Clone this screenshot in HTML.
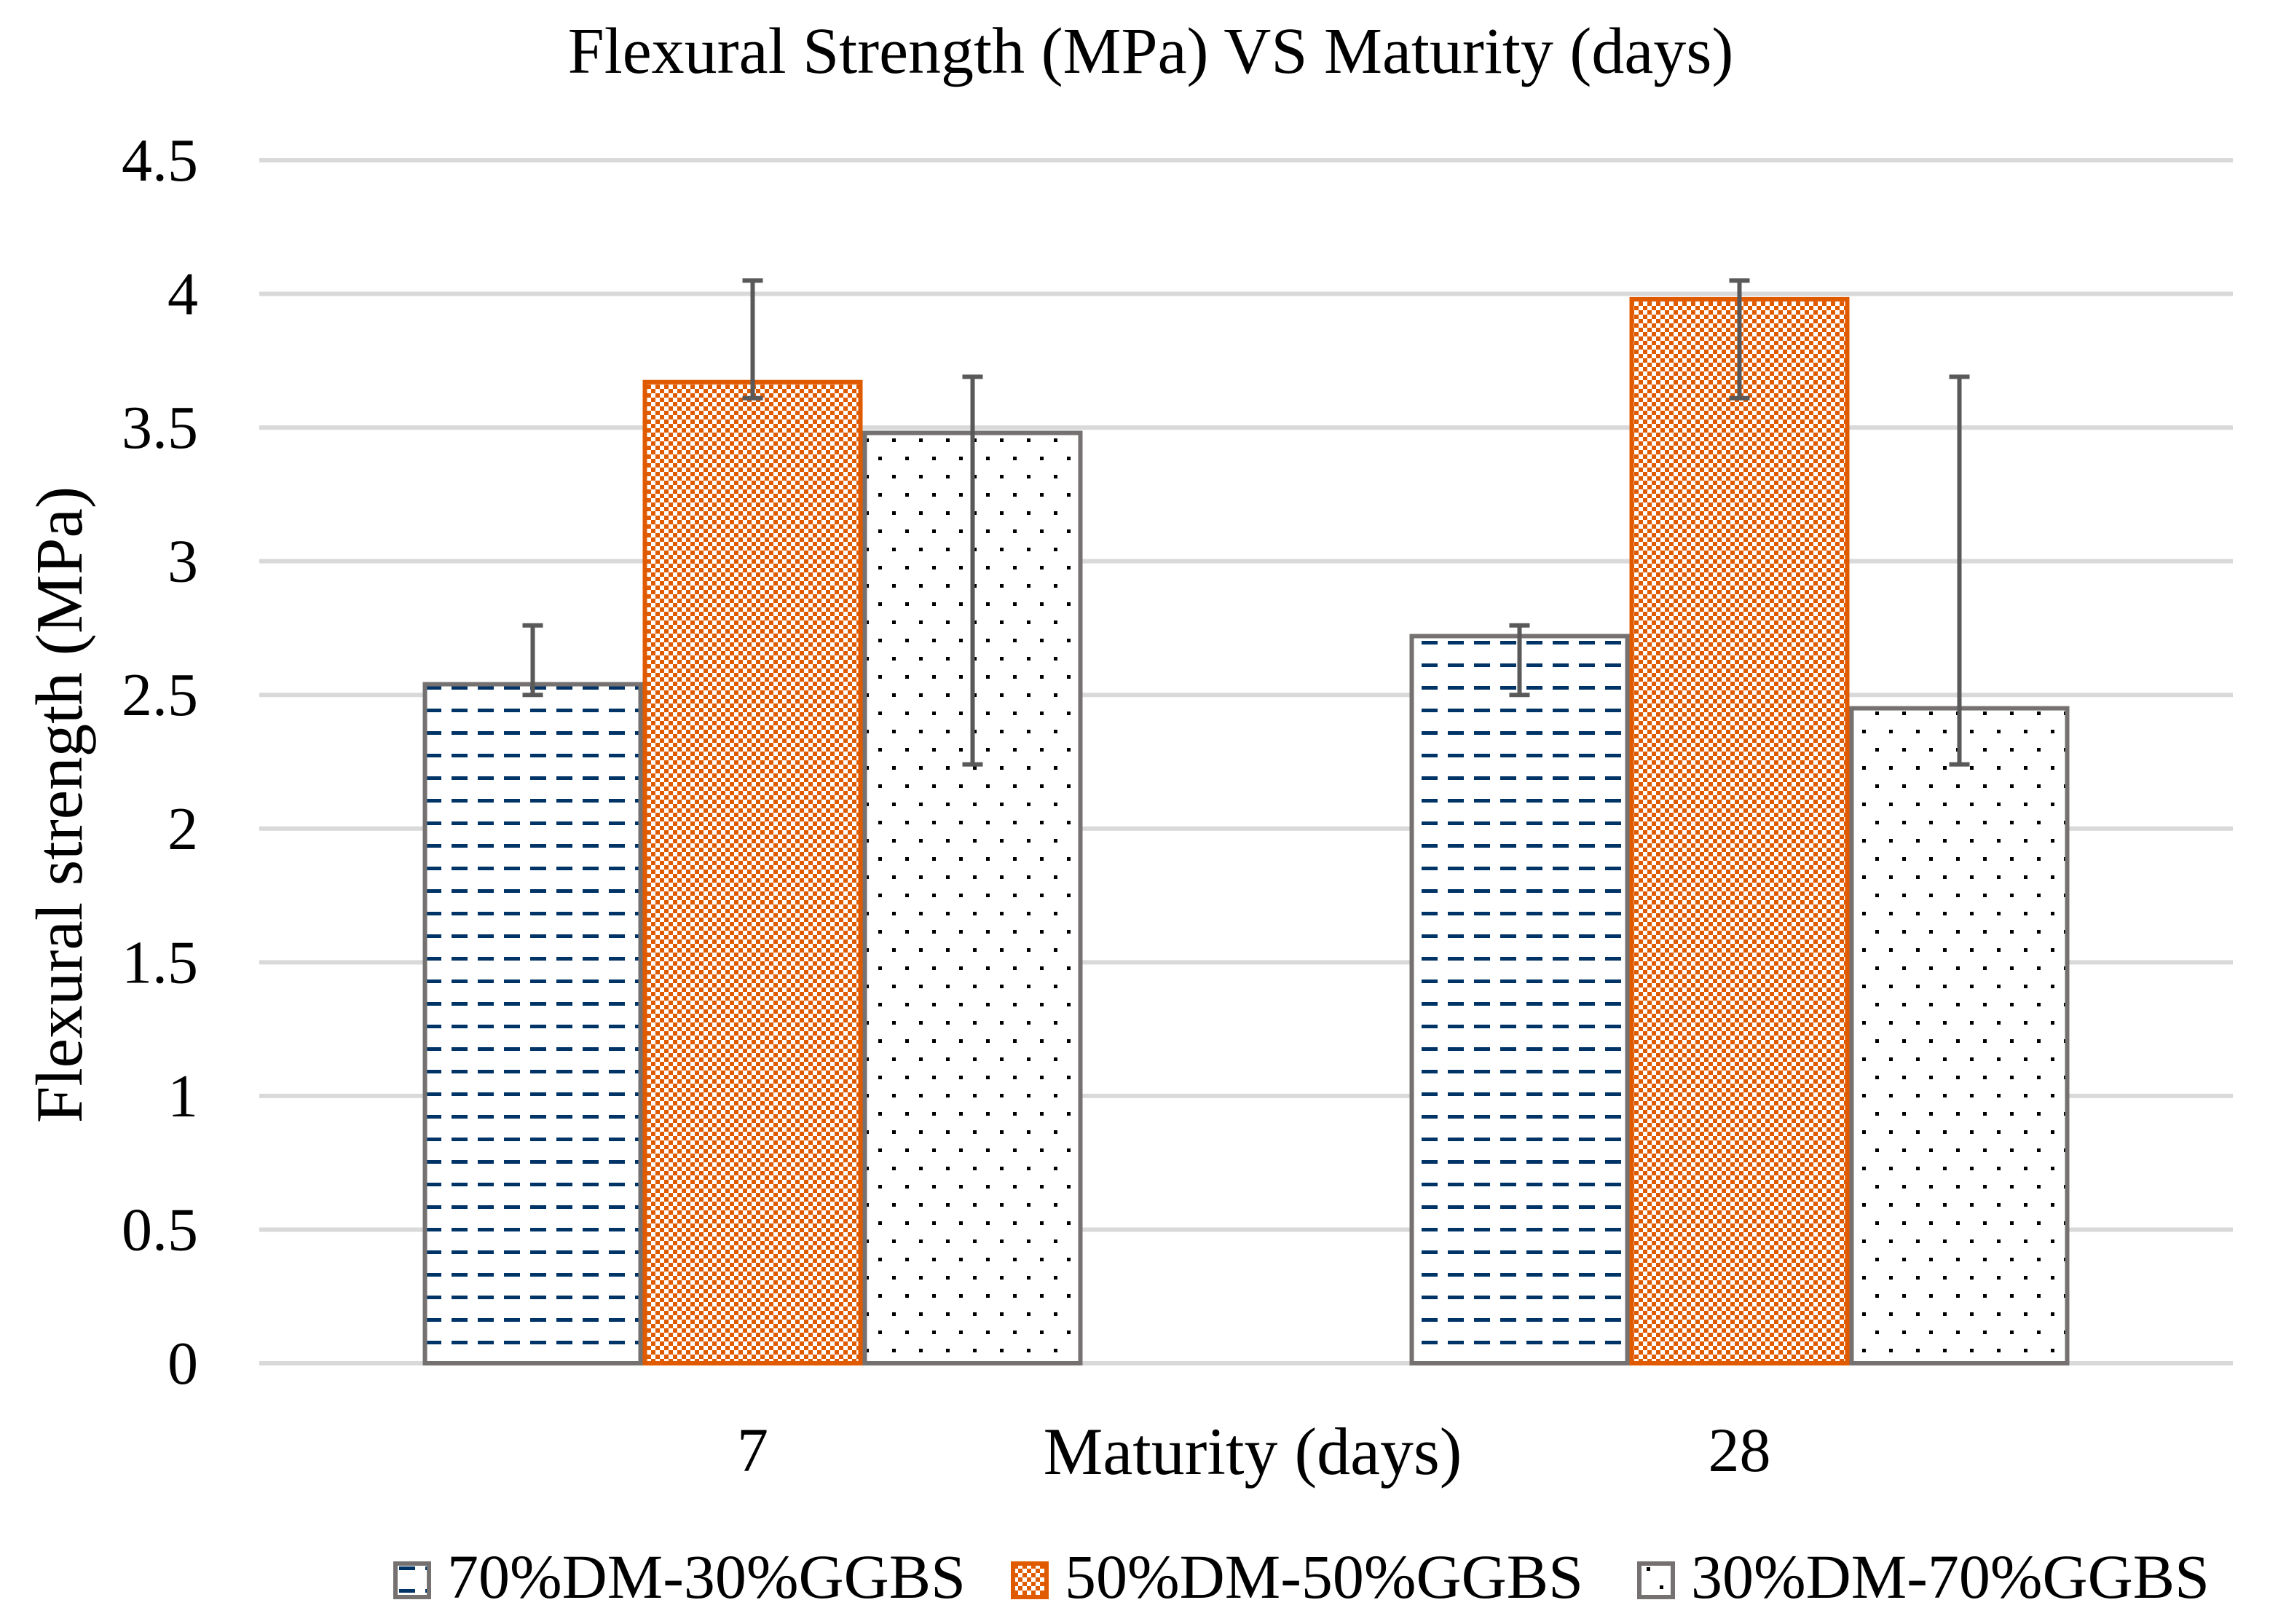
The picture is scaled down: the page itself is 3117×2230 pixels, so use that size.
<!DOCTYPE html>
<html><head><meta charset="utf-8"><style>
html,body{margin:0;padding:0;background:#fff;}
svg{display:block;font-family:"Liberation Serif",serif;}
</style></head><body>
<svg id="chart" width="3117" height="2230" viewBox="0 0 3117 2230" xmlns="http://www.w3.org/2000/svg">
<defs>
<pattern id="pDash" width="36" height="31" patternUnits="userSpaceOnUse" x="582" y="0">
<rect width="36" height="31" fill="#fff"/><rect x="2" y="12" width="22" height="5" fill="#003366"/>
</pattern>
<pattern id="pCheck" width="12" height="12" patternUnits="userSpaceOnUse">
<rect width="12" height="12" fill="#fff"/><rect x="0" y="0" width="6" height="6" fill="#e05a00"/><rect x="6" y="6" width="6" height="6" fill="#e05a00"/>
</pattern>
<pattern id="pDot" width="37" height="50" patternUnits="userSpaceOnUse">
<rect width="37" height="50" fill="#fff"/><rect x="4" y="2" width="5" height="5" fill="#000"/><rect x="22" y="27" width="5" height="5" fill="#000"/>
</pattern>
</defs>
<text x="1580" y="100" font-size="90" text-anchor="middle">Flexural Strength (MPa) VS Maturity (days)</text>
<g id="grid"></g>
<g id="bars"></g>
<g id="errs"></g>
<text transform="translate(112,1105) rotate(-90)" font-size="91" text-anchor="middle">Flexural strength (MPa)</text>
<text x="1720" y="2024" font-size="92" text-anchor="middle">Maturity (days)</text>
<g id="legend"></g>
</svg>
<script>
const categories = ["7", "28"];
const seriesNames = ["70%DM-30%GGBS", "50%DM-50%GGBS", "30%DM-70%GGBS"];
const values70 = [2.54, 2.72];
const values50 = [3.67, 3.98];
const values30 = [3.48, 2.45];
const errHigh70 = [2.76, 2.76];
const errLow70 = [2.50, 2.50];
const errHigh50 = [4.05, 4.05];
const errLow50 = [3.61, 3.61];
const errHigh30 = [3.69, 3.69];
const errLow30 = [2.24, 2.24];
const yTicks = [0, 0.5, 1, 1.5, 2, 2.5, 3, 3.5, 4, 4.5];
const yTickLabels = ["0", "0.5", "1", "1.5", "2", "2.5", "3", "3.5", "4", "4.5"];

const NS = "http://www.w3.org/2000/svg";
const X0 = 356, X1 = 3066, Y0 = 1872, YTOP = 220, YMAX = 4.5;
function yScale(v){ return Y0 - (v / YMAX) * (Y0 - YTOP); }
const band = (X1 - X0) / categories.length;
const barW = 302;
function xBar(ci, si){ return X0 + band * ci + band / 2 - 1.5 * barW + si * barW; }
function mk(tag, attrs, parent){ const e = document.createElementNS(NS, tag); for (const k in attrs) e.setAttribute(k, attrs[k]); parent.appendChild(e); return e; }

const grid = document.getElementById('grid');
yTicks.forEach((t, i) => {
  const l = mk('line', {x1: X0, x2: X1, y1: yScale(t), y2: yScale(t), stroke: '#d9d9d9', 'stroke-width': 6}, grid);
  
  
  const tx = mk('text', {x: 272, y: yScale(t) + 28, 'font-size': 84, 'text-anchor': 'end'}, grid);
  tx.textContent = yTickLabels[i];
  
  
});
categories.forEach((c, ci) => {
  const tx = mk('text', {x: X0 + band * ci + band / 2, y: 2020, 'font-size': 86, 'text-anchor': 'middle'}, grid);
  tx.textContent = c;
  
  
});

const series = [
  {vals: values70, hi: errHigh70, lo: errLow70, fill: 'url(#pDash)', stroke: '#767171', key: '70'},
  {vals: values50, hi: errHigh50, lo: errLow50, fill: 'url(#pCheck)', stroke: '#e05a00', key: '50'},
  {vals: values30, hi: errHigh30, lo: errLow30, fill: 'url(#pDot)', stroke: '#767171', key: '30'}
];
const barsG = document.getElementById('bars');
const errG = document.getElementById('errs');
series.forEach((s, si) => {
  categories.forEach((c, ci) => {
    const x = xBar(ci, si), y = yScale(s.vals[ci]);
    const r = mk('rect', {x: x + 3, y: y, width: barW - 6, height: Y0 - y, fill: s.fill, stroke: s.stroke, 'stroke-width': 6}, barsG);
    
    
    const cx = x + barW / 2, yh = yScale(s.hi[ci]), yl = yScale(s.lo[ci]);
    const g = mk('g', {stroke: '#595959', 'stroke-width': 6}, errG);
    
    
    mk('line', {x1: cx, x2: cx, y1: yh, y2: yl}, g);
    mk('line', {x1: cx - 14, x2: cx + 14, y1: yh, y2: yh}, g);
    mk('line', {x1: cx - 14, x2: cx + 14, y1: yl, y2: yl}, g);
  });
});

const legend = document.getElementById('legend');
const legX = [540, 1388, 2248];
series.forEach((s, si) => {
  const g = mk('g', {}, legend);
  
  
  mk('rect', {x: legX[si] + 3, y: 2147, width: 46, height: 46, fill: s.fill, stroke: s.stroke, 'stroke-width': 6}, g);
  const t = mk('text', {x: legX[si] + 74, y: 2194, 'font-size': 86}, g);
  t.textContent = seriesNames[si];
});
</script>
</body></html>
